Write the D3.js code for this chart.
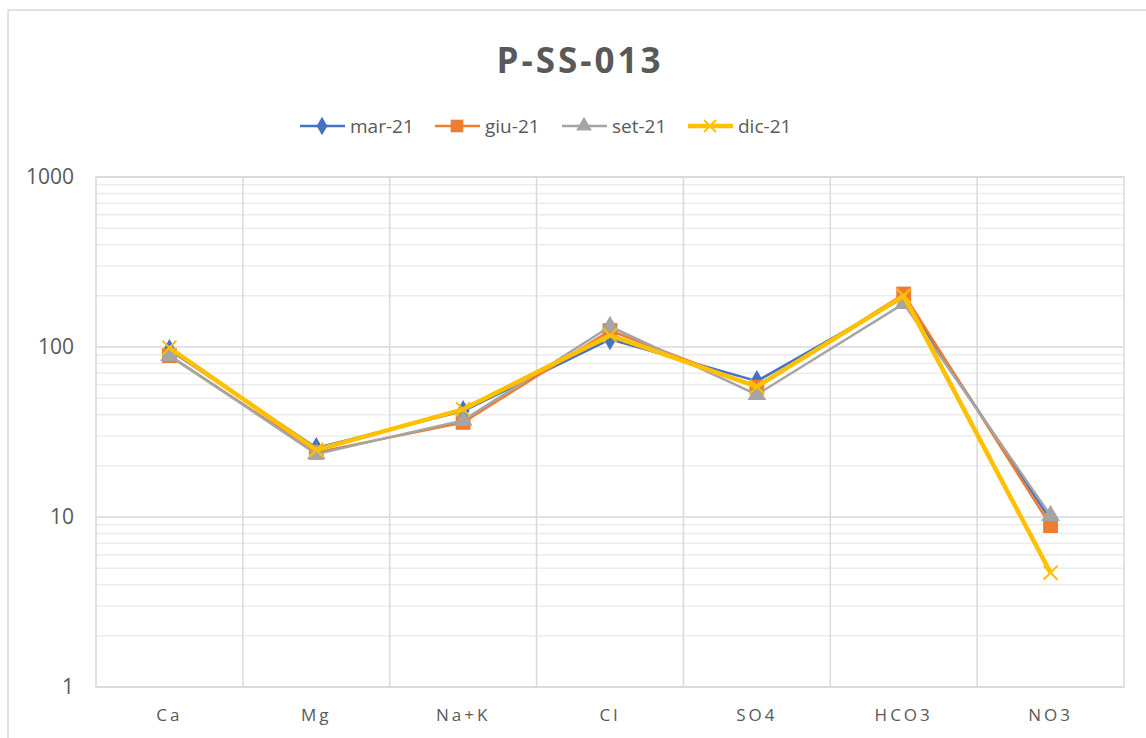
<!DOCTYPE html>
<html>
<head>
<meta charset="utf-8">
<script src="https://cdn.jsdelivr.net/npm/d3@7"></script>
<style>
  body { margin: 0; background: #fff; }
  text { font-family: "Open Sans", "Noto Sans", sans-serif; fill: #595959; }
</style>
</head>
<body>
<svg id="chart" width="1146" height="738"></svg>
<script>
// ion values (log scale)
var categories = ["Ca", "Mg", "Na+K", "Cl", "SO4", "HCO3", "NO3"];
var mar21 = [96, 25.5, 42, 111, 63, 195, 9.6];
var giu21 = [89, 24, 36, 125, 58, 205, 8.9];
var set21 = [89, 23.5, 37, 132, 52.5, 180, 10.2];
var dic21 = [99, 24.8, 43, 117, 58.5, 200, 4.7];
var yTicks = [1, 10, 100, 1000];

var seriesList = [
  { name: "mar-21", values: mar21, color: "#4472C4", shape: "diamond", width: 2.5 },
  { name: "giu-21", values: giu21, color: "#ED7D31", shape: "square", width: 2.5 },
  { name: "set-21", values: set21, color: "#A5A5A5", shape: "triangle", width: 2.5 },
  { name: "dic-21", values: dic21, color: "#FFC000", shape: "cross", width: 4.5 }
];

var svg = d3.select("#chart");
var plotLeft = 96, plotRight = 1124, plotTop = 177, plotBottom = 687;

// outer chart frame
svg.append("rect")
  .attr("x", 8).attr("y", 10)
  .attr("width", 1160).attr("height", 760)
  .attr("fill", "none").attr("stroke", "#d9d9d9").attr("stroke-width", 1.5);

var xScale = d3.scaleBand().domain(categories).range([plotLeft, plotRight]);
var yScale = d3.scaleLog().domain([1, 1000]).range([plotBottom, plotTop]);

// minor gridlines 2..9 in each decade
var minor = [];
yTicks.slice(0, -1).forEach(function(d) {
  for (var k = 2; k < 10; k++) minor.push(d * k);
});
svg.append("g").selectAll("line").data(minor).enter().append("line")
  .attr("x1", plotLeft).attr("x2", plotRight)
  .attr("y1", function(d) { return yScale(d); })
  .attr("y2", function(d) { return yScale(d); })
  .attr("stroke", "#ececec").attr("stroke-width", 1.5);

svg.append("g").selectAll("line").data(yTicks).enter().append("line")
  .attr("x1", plotLeft).attr("x2", plotRight)
  .attr("y1", function(d) { return yScale(d); })
  .attr("y2", function(d) { return yScale(d); })
  .attr("stroke", "#d9d9d9").attr("stroke-width", 1.5);

// vertical category separators
svg.append("g").selectAll("line").data(categories.slice(1)).enter().append("line")
  .attr("x1", function(d) { return xScale(d); })
  .attr("x2", function(d) { return xScale(d); })
  .attr("y1", plotTop).attr("y2", plotBottom)
  .attr("stroke", "#d9d9d9").attr("stroke-width", 1.5);

svg.append("rect")
  .attr("x", plotLeft).attr("y", plotTop)
  .attr("width", plotRight - plotLeft).attr("height", plotBottom - plotTop)
  .attr("fill", "none").attr("stroke", "#d9d9d9").attr("stroke-width", 1.5);

// y tick labels
svg.append("g").selectAll("text").data(yTicks).enter().append("text")
  .attr("x", 74)
  .attr("y", function(d) { return yScale(d); })
  .attr("dy", "0.35em")
  .attr("text-anchor", "end")
  .style("font-size", "21px")
  .text(function(d) { return d; });

// x category labels
svg.append("g").selectAll("text").data(categories).enter().append("text")
  .attr("x", function(d) { return xScale(d) + xScale.bandwidth() / 2; })
  .attr("y", 721)
  .attr("text-anchor", "middle")
  .style("font-size", "17px")
  .style("letter-spacing", "3px")
  .text(function(d) { return d; });

var symbolType = { diamond: d3.symbolDiamond, square: d3.symbolSquare, triangle: d3.symbolTriangle };

function drawMarker(g, shape, color, x, y, scale) {
  scale = scale || 1;
  if (shape === "cross") {
    var s = 7 * scale;
    g.append("path")
      .attr("d", "M" + (x - s) + "," + (y - s) + "L" + (x + s) + "," + (y + s) +
                 "M" + (x - s) + "," + (y + s) + "L" + (x + s) + "," + (y - s))
      .attr("stroke", color).attr("stroke-width", 2).attr("fill", "none");
  } else {
    var size = shape === "square" ? 220 : (shape === "diamond" ? 140 : 150);
    g.append("path")
      .attr("d", d3.symbol().type(symbolType[shape]).size(size * scale * scale)())
      .attr("transform", "translate(" + x + "," + y + ")")
      .attr("fill", color);
  }
}

var line = d3.line()
  .x(function(d, i) { return xScale(categories[i]) + xScale.bandwidth() / 2; })
  .y(function(d) { return yScale(d); });

seriesList.forEach(function(s) {
  var g = svg.append("g");
  g.append("path")
    .datum(s.values)
    .attr("d", line)
    .attr("fill", "none")
    .attr("stroke", s.color)
    .attr("stroke-width", s.width)
    .attr("stroke-linejoin", "round");
  s.values.forEach(function(v, i) {
    drawMarker(g, s.shape, s.color, xScale(categories[i]) + xScale.bandwidth() / 2, yScale(v));
  });
});

// title
svg.append("text")
  .attr("x", 580).attr("y", 73)
  .attr("text-anchor", "middle")
  .style("font-size", "35px")
  .style("font-weight", "bold")
  .style("letter-spacing", "3px")
  .text("P-SS-013");

// legend
var legendX = [300, 435, 562, 688];
seriesList.forEach(function(s, i) {
  var g = svg.append("g");
  var x0 = legendX[i], y0 = 126;
  g.append("line")
    .attr("x1", x0).attr("x2", x0 + 45)
    .attr("y1", y0).attr("y2", y0)
    .attr("stroke", s.color).attr("stroke-width", s.width);
  drawMarker(g, s.shape, s.color, x0 + 22, y0, 0.85);
  g.append("text")
    .attr("x", x0 + 50).attr("y", y0)
    .attr("dy", "0.35em")
    .style("font-size", "19px")
    .text(s.name);
});
</script>
</body>
</html>
